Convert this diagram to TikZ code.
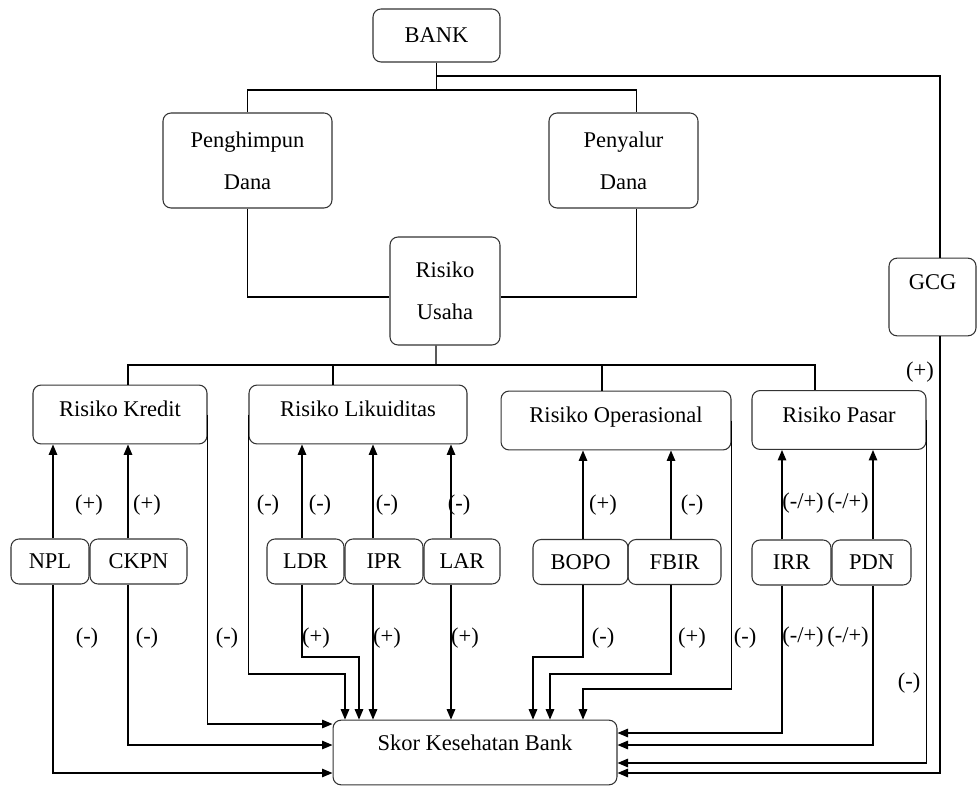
\documentclass[tikz,border=0pt]{standalone}
\usepackage{fontspec}
\setmainfont{Liberation Serif}
\newfontfamily\diagfont{Liberation Serif}
\usetikzlibrary{arrows.meta}

\begin{document}
\begin{tikzpicture}[x=0.02cm, y=-0.02cm,
    box/.style={draw=black!80, line width=0.6pt, rounded corners=0.16cm, inner sep=0pt, align=center, font=\diagfont\fontsize{12.8pt}{24pt}\selectfont},
    riskbox/.style={box, text height=18pt, text depth=15.5pt},
    smallbox/.style={box, minimum height=0.9cm},
    sign/.style={inner sep=0pt, font=\diagfont\fontsize{12.8pt}{15pt}\selectfont},
    link/.style={line width=0.8pt},
    arr/.style={link, -{Triangle[length=0.21cm, width=0.17cm]}}]

    \useasboundingbox (0,0) rectangle (977,787);

    % Top of the tree
    \node[box, minimum width=2.54cm, minimum height=1.06cm] (bank) at (436.5,35.5) {BANK};
    \node[box, minimum width=3.38cm, minimum height=1.9cm] (himpun) at (247.5,160.5) {Penghimpun\\Dana};
    \node[box, minimum width=2.98cm, minimum height=1.9cm] (salur) at (623.5,160.5) {Penyalur\\Dana};
    \node[box, minimum width=2.2cm, minimum height=2.16cm] (usaha) at (445,291) {Risiko\\Usaha};
    \node[box, minimum width=1.74cm, text height=17.6pt, text depth=26.6pt] (gcg) at (932.5,297) {GCG};

    % Risk groups
    \node[riskbox, minimum width=3.48cm] (kredit) at (120,414.5) {Risiko Kredit};
    \node[riskbox, minimum width=4.36cm] (likuid) at (358,414.5) {Risiko Likuiditas};
    \node[riskbox, minimum width=4.6cm] (operas) at (616,420.5) {Risiko Operasional};
    \node[riskbox, minimum width=3.48cm] (pasar) at (839,420) {Risiko Pasar};

    % Ratios
    \node[smallbox, minimum width=1.56cm] (npl) at (50,561.5) {NPL};
    \node[smallbox, minimum width=1.94cm] (ckpn) at (138.5,561.5) {CKPN};
    \node[smallbox, minimum width=1.54cm] (ldr) at (305.5,561.5) {LDR};
    \node[smallbox, minimum width=1.56cm] (ipr) at (384,561.5) {IPR};
    \node[smallbox, minimum width=1.52cm] (lar) at (462,561.5) {LAR};
    \node[smallbox, minimum width=1.9cm] (bopo) at (580.5,562) {BOPO};
    \node[smallbox, minimum width=1.86cm] (fbir) at (674.5,562) {FBIR};
    \node[smallbox, minimum width=1.58cm] (irr) at (791.5,562.5) {IRR};
    \node[smallbox, minimum width=1.58cm] (pdn) at (871.5,562.5) {PDN};

    % Score
    \node[box, minimum width=5.68cm, text height=17pt, text depth=19.8pt] (skor) at (475,752.5) {Skor Kesehatan Bank};

    % Tree lines
    \coordinate (j1) at (436.5,90);
    \coordinate (j2) at (436.5,76);
    \coordinate (j3) at (436,365);
    \draw[link] (bank.south) -- (j1);
    \draw[link] (himpun.north) |- (j1) -| ([xshift=0.26cm]salur.north);
    \draw[link] (j2) -| ([xshift=0.15cm]gcg.north);
    \draw[link] (himpun.south) |- ([yshift=-0.12cm]usaha.west);
    \draw[link] ([xshift=0.26cm]salur.south) |- ([yshift=-0.12cm]usaha.east);
    \draw[link] ([xshift=-0.18cm]usaha.south) -- (j3);
    \draw[link] ([xshift=0.16cm]kredit.north) |- (j3) -| ([xshift=-0.48cm]pasar.north);
    \draw[link] ([xshift=-0.5cm]likuid.north) -- ([xshift=-0.5cm]likuid.north |- j3);
    \draw[link] ([xshift=-0.28cm]operas.north) -- ([xshift=-0.28cm]operas.north |- j3);

    % Ratio -> risk group
    \foreach \n/\s/\t in {npl/0.06/kredit, ckpn/-0.21/kredit, ldr/-0.07/likuid, ipr/-0.22/likuid, lar/-0.22/likuid,
                          bopo/0.05/operas, fbir/-0.07/operas, irr/-0.19/pasar, pdn/0.03/pasar} {
        \draw[arr] ([xshift=\s cm]\n.north) -- ([xshift=\s cm]\n.north |- \t.south);
    }

    % Everything -> score
    \coordinate (b1) at (345,674);
    \coordinate (b2) at (359,657);
    \coordinate (b3) at (533,657);
    \coordinate (b4) at (550,674);
    \coordinate (b5) at (583,689);
    \draw[arr] ([xshift=0.06cm]npl.south) |- ([yshift=-0.41cm]skor.west);
    \draw[arr] ([xshift=-0.21cm]ckpn.south) |- ([yshift=0.15cm]skor.west);
    \draw[arr] (kredit.east) |- ([yshift=0.57cm]skor.west);
    \draw[arr] (likuid.west) |- (b1) -- (b1 |- skor.north);
    \draw[arr] ([xshift=-0.07cm]ldr.south) |- (b2) -- (b2 |- skor.north);
    \draw[arr] ([xshift=-0.22cm]ipr.south) -- ([xshift=-0.22cm]ipr.south |- skor.north);
    \draw[arr] ([xshift=-0.22cm]lar.south) -- ([xshift=-0.22cm]lar.south |- skor.north);
    \draw[arr] ([xshift=0.05cm]bopo.south) |- (b3) -- (b3 |- skor.north);
    \draw[arr] ([xshift=-0.07cm]fbir.south) |- (b4) -- (b4 |- skor.north);
    \draw[arr] (operas.east) |- (b5) -- (b5 |- skor.north);
    \draw[arr] ([xshift=-0.19cm]irr.south) |- ([yshift=0.39cm]skor.east);
    \draw[arr] ([xshift=0.03cm]pdn.south) |- ([yshift=0.15cm]skor.east);
    \draw[arr] (pasar.east) |- ([yshift=-0.21cm]skor.east);
    \draw[arr] ([xshift=0.15cm]gcg.south) |- ([yshift=-0.41cm]skor.east);

    % Signs
    \foreach \x/\y/\t [count=\k] in {89/505/{(+)}, 147/505/{(+)}, 268/505/{(-)}, 320/505/{(-)}, 387/505/{(-)}, 459/505/{(-)},
                                     603/505/{(+)}, 692/505/{(-)}, 803/503/{(-/+)}, 848/503/{(-/+)}, 920/372/{(+)}} {
        \node[sign] (up\k) at (\x,\y) {\t};
    }
    \foreach \x/\y/\t [count=\k] in {87/638/{(-)}, 147/638/{(-)}, 227/638/{(-)}, 316/638/{(+)}, 387/638/{(+)}, 465/638/{(+)},
                                     603/638/{(-)}, 692/638/{(+)}, 745/638/{(-)}, 803/637/{(-/+)}, 848/637/{(-/+)}, 909/683/{(-)}} {
        \node[sign] (dn\k) at (\x,\y) {\t};
    }
\end{tikzpicture}
\end{document}
